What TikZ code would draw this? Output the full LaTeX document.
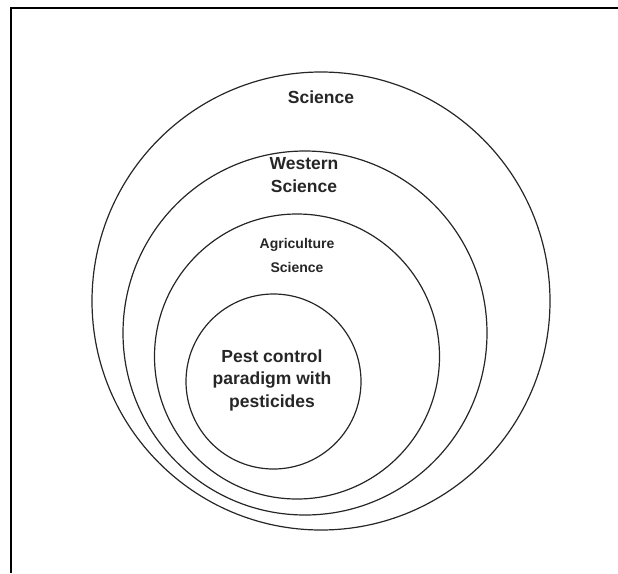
\documentclass[tikz,border=0pt]{standalone}
\usepackage{fontspec}
\setmainfont{Liberation Sans}
\begin{document}
\begin{tikzpicture}[x=1pt,y=-1pt,
  ring/.style={draw=black!85,line width=1.2pt,circle,inner sep=0pt},
  lbl/.style={font=\bfseries,align=center,text=black!85}]
\useasboundingbox (0,0) rectangle (618,573);
\draw[line width=1.6pt] (11,573) -- (11,8) -- (618,8);
\node[ring,minimum size=458pt] (sci) at (321,301) {};
\node[ring,minimum size=364pt] (wes) at (305,333) {};
\node[ring,minimum size=285pt] (agr) at (297,356.5) {};
\node[ring,minimum size=175pt] (pest) at (273.5,381.5) {};
\node[lbl,font=\bfseries\fontsize{17.5}{20}\selectfont] (tsci) at (321,97) {Science};
\node[lbl,font=\bfseries\fontsize{17.5}{23}\selectfont] (twes) at (304,175) {Western\\Science};
\node[lbl,font=\bfseries\fontsize{14}{24}\selectfont] (tagr) at (297,255) {Agriculture\\Science};
\node[lbl,font=\bfseries\fontsize{17.5}{22.5}\selectfont] (tpest) at (272,380) {Pest control\\paradigm with\\pesticides};
\end{tikzpicture}
\end{document}
